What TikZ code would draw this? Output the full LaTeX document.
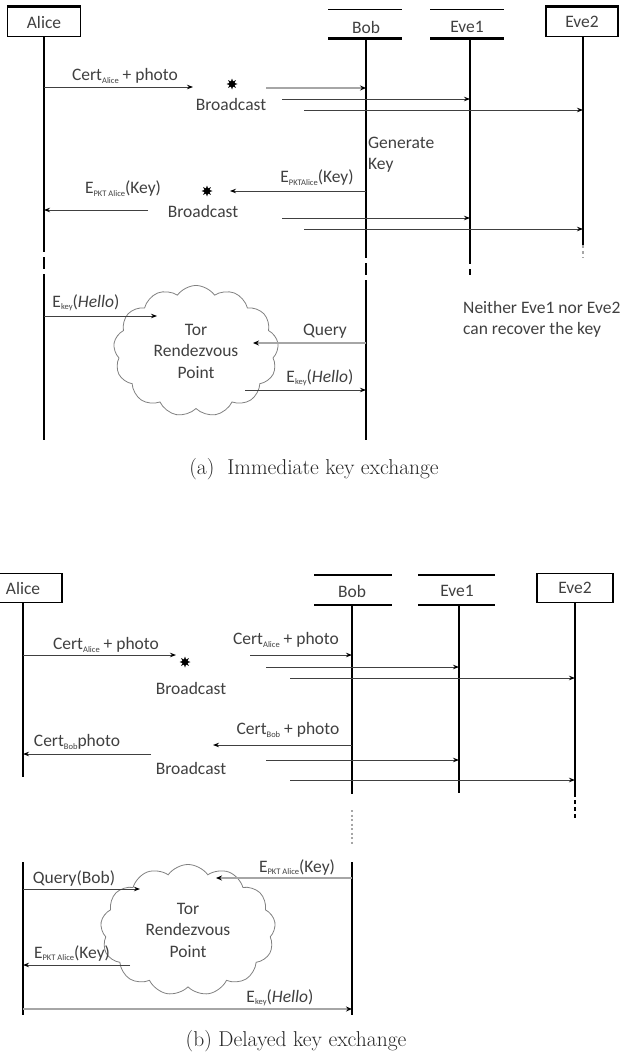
\documentclass[tikz,border=0pt]{standalone}
\usepackage{fontspec}
\usetikzlibrary{arrows.meta,shapes.geometric,shapes.symbols}
\newfontfamily\diag{Carlito}
\newcommand\lsub[1]{\raisebox{-0.3ex}{\fontsize{8.5}{8.5}\selectfont #1}}
\tikzset{
  lbl/.style={font=\diag\fontsize{17.5}{21}\selectfont, text=black!75, inner sep=0pt, align=center},
  hdr/.style={font=\diag\fontsize{17.5}{21}\selectfont, text=black!75, inner sep=0pt},
  box/.style={draw=black, line width=1.4pt, minimum height=29pt, hdr},
  life/.style={line width=1.5pt, black},
  dlife/.style={line width=1.5pt, black, dash pattern=on 12pt off 5pt},
  flife/.style={line width=1.2pt, black!35, dash pattern=on 3pt off 3pt},
  msg/.style={line width=0.9pt, black!75, -{Stealth[length=6pt,width=4.5pt,color=black]}},
  tmsg/.style={line width=2.4pt, black!35, -{Stealth[length=6pt,width=5pt,color=black]}},
  starn/.style={star, star points=8, star point ratio=2, fill=black, inner sep=0pt, minimum size=11pt},
  tor/.style={cloud, cloud puffs=13, cloud puff arc=110, draw=black!50, line width=0.8pt,
              font=\diag\fontsize{17.5}{21.5}\selectfont, text=black!75, align=center, inner sep=0pt},
  captext/.style={font=\fontsize{21.5}{25}\selectfont, text=black!85, inner sep=0pt}
}
\begin{document}
\begin{tikzpicture}[x=1pt,y=-1pt]
\useasboundingbox (0,0) rectangle (622,1057);

% ===================== (a) =====================
\node[box, minimum width=73pt] (aliceA) at (44,22) {Alice};
\draw[line width=3pt] (aliceA.north west) -- (aliceA.north east);
\node[hdr] (bobA) at (366,27) {Bob};
\draw[line width=1pt] (328,10) -- (402,10);
\draw[line width=3pt] (328,39) -- (402,39);
\node[hdr] (eveoneA) at (467,27) {Eve1};
\draw[line width=1pt] (430,10) -- (504,10);
\draw[line width=3pt] (430,39) -- (504,39);
\node[box, minimum width=72pt] (evetwoA) at (582,22) {Eve2};
\draw[line width=3pt] (evetwoA.north west) -- (evetwoA.north east);

% lifelines
\coordinate (aA1) at (44,240); \coordinate (aA2) at (44,285); \coordinate (aA3) at (44,440);
\coordinate (bA0) at (366,39); \coordinate (bA1) at (366,246); \coordinate (bA2) at (366,290); \coordinate (bA3) at (366,440);
\coordinate (eA0) at (470,39); \coordinate (eA1) at (470,252); \coordinate (eA2) at (470,275);
\coordinate (fA1) at (583,245); \coordinate (fA2) at (583,258);
\draw[life] (aliceA.south) -- (aA1);
\draw[dlife] (aA1) -- (aA2);
\draw[life] (aA2) -- (aA3);
\draw[life] (bA0) -- (bA1);
\draw[dlife] (bA1) -- (bA2);
\draw[life] (bA2) -- (bA3);
\draw[life] (eA0) -- (eA1);
\draw[dlife] (eA1) -- (eA2);
\draw[life] (evetwoA.south -| fA1) -- (fA1);
\draw[flife] (fA1) -- (fA2);

% messages
\coordinate (m1s) at (44,87); \coordinate (m1e) at (193,87);
\draw[msg] (m1s) -- (m1e);
\node[lbl] (l1) at (125,76) {Cert\lsub{Alice} + photo};
\node[starn] (s1) at (232,84) {};
\node[lbl] (bc1) at (231,104) {Broadcast};
\coordinate (b1s) at (266,88); \coordinate (b1e) at (366,88);
\coordinate (b2s) at (282,99); \coordinate (b2e) at (470,99);
\coordinate (b3s) at (304,110); \coordinate (b3e) at (583,110);
\draw[tmsg] (b1s) -- (b1e);
\draw[msg] (b2s) -- (b2e);
\draw[msg] (b3s) -- (b3e);
\node[lbl, align=left, anchor=west] (gen) at (368,155) {Generate\\Key};
\coordinate (m2s) at (366,191); \coordinate (m2e) at (230,191);
\draw[msg] (m2s) -- (m2e);
\node[lbl] (l2) at (317,178) {E\lsub{PKTAlice}(Key)};
\node[starn] (s2) at (207,191) {};
\node[lbl] (l3) at (123,189) {E\lsub{PKT Alice}(Key)};
\node[lbl] (bc2) at (203,211) {Broadcast};
\coordinate (m3s) at (148,210); \coordinate (m3e) at (44,210);
\draw[msg] (m3s) -- (m3e);
\coordinate (b4s) at (282,218); \coordinate (b4e) at (470,218);
\coordinate (b5s) at (304,229); \coordinate (b5e) at (583,229);
\draw[msg] (b4s) -- (b4e);
\draw[msg] (b5s) -- (b5e);

% rendezvous
\node[tor, minimum width=165pt, minimum height=127pt] (torA) at (196,351) {Tor\\Rendezvous\\Point};
\coordinate (m4s) at (44,316); \coordinate (m4e) at (157,316);
\draw[msg] (m4s) -- (m4e);
\node[lbl] (l4) at (86,303) {E\lsub{key}(\textit{Hello})};
\coordinate (qs) at (366,343); \coordinate (qe) at (253,343);
\draw[tmsg] (qs) -- (qe);
\node[lbl] (l5) at (325,331) {Query};
\coordinate (m5s) at (245,390); \coordinate (m5e) at (366,390);
\draw[msg] (m5s) -- (m5e);
\node[lbl] (l6) at (320,378) {E\lsub{key}(\textit{Hello})};
\node[lbl, align=left, anchor=west] (neither) at (463,319) {Neither Eve1 nor Eve2\\can recover the key};

\node[captext] (capA) at (314,469) {(a)\ \ Immediate key exchange};

% ===================== (b) =====================
\node[box, minimum width=78pt] (aliceB) at (23,588) {Alice};
\node[hdr] (bobB) at (352,591) {Bob};
\draw[line width=1.5pt] (314,575) -- (392,575);
\draw[line width=1.5pt] (314,605) -- (392,605);
\node[hdr] (eveoneB) at (457,591) {Eve1};
\draw[line width=1.5pt] (418,575) -- (495,575);
\draw[line width=1.5pt] (418,605) -- (495,605);
\node[box, minimum width=76pt] (evetwoB) at (575,588) {Eve2};

\coordinate (aB1) at (23,777);
\coordinate (bB0) at (352,605); \coordinate (bB1) at (352,794);
\coordinate (eB0) at (459,605); \coordinate (eB1) at (459,793);
\coordinate (fB1) at (575,793); \coordinate (fB2) at (575,820);
\coordinate (bB2) at (352,810); \coordinate (bB3) at (352,845);
\coordinate (aB4) at (23,862); \coordinate (aB5) at (23,1015);
\coordinate (bB4) at (352,862); \coordinate (bB5) at (352,1015);
\draw[life] (aliceB.south -| aB1) -- (aB1);
\draw[life] (bB0) -- (bB1);
\draw[life] (eB0) -- (eB1);
\draw[life] (evetwoB.south) -- (fB1);
\draw[line width=1.5pt, dash pattern=on 4pt off 3pt] (fB1) -- (fB2);
\draw[line width=1.2pt, black!35, dash pattern=on 2pt off 2.5pt] (bB2) -- (bB3);
\draw[life] (aB4) -- (aB5);
\draw[life] (bB4) -- (bB5);

\coordinate (n1s) at (23,655); \coordinate (n1e) at (176,655);
\draw[msg] (n1s) -- (n1e);
\node[lbl] (k1) at (106,645) {Cert\lsub{Alice} + photo};
\node[starn] (s3) at (185,662) {};
\node[lbl] (bc3) at (191,688) {Broadcast};
\coordinate (r1s) at (250,655); \coordinate (r1e) at (352,655);
\coordinate (r2s) at (266,667); \coordinate (r2e) at (459,667);
\coordinate (r3s) at (290,678); \coordinate (r3e) at (575,678);
\draw[msg] (r1s) -- (r1e);
\node[lbl] (k2) at (286,640) {Cert\lsub{Alice} + photo};
\draw[msg] (r2s) -- (r2e);
\draw[msg] (r3s) -- (r3e);
\coordinate (n2s) at (352,745); \coordinate (n2e) at (213,745);
\draw[msg] (n2s) -- (n2e);
\node[lbl] (k3) at (288,730) {Cert\lsub{Bob} + photo};
\coordinate (n3s) at (151,754); \coordinate (n3e) at (23,754);
\draw[msg] (n3s) -- (n3e);
\node[lbl] (k4) at (77,742) {Cert\lsub{Bob}photo};
\node[lbl] (bc4) at (191,768) {Broadcast};
\coordinate (r4s) at (266,760); \coordinate (r4e) at (459,760);
\coordinate (r5s) at (290,780); \coordinate (r5e) at (575,780);
\draw[msg] (r4s) -- (r4e);
\draw[msg] (r5s) -- (r5e);

\node[tor, minimum width=175pt, minimum height=126pt] (torB) at (188,930) {Tor\\Rendezvous\\Point};
\coordinate (qbs) at (23,889); \coordinate (qbe) at (140,889);
\draw[msg] (qbs) -- (qbe);
\node[lbl] (k5) at (74,878) {Query(Bob)};
\coordinate (p1s) at (352,878); \coordinate (p1e) at (216,878);
\draw[tmsg] (p1s) -- (p1e);
\node[lbl] (k6) at (297,867) {E\lsub{PKT Alice}(Key)};
\coordinate (p2s) at (130,965); \coordinate (p2e) at (23,965);
\draw[msg] (p2s) -- (p2e);
\node[lbl] (k7) at (72,953) {E\lsub{PKT Alice}(Key)};
\coordinate (hs) at (23,1009); \coordinate (he) at (352,1009);
\draw[tmsg] (hs) -- (he);
\node[lbl] (k8) at (280,998) {E\lsub{key}(\textit{Hello})};

\node[captext] (capB) at (296,1041) {(b) Delayed key exchange};
\end{tikzpicture}
\end{document}
